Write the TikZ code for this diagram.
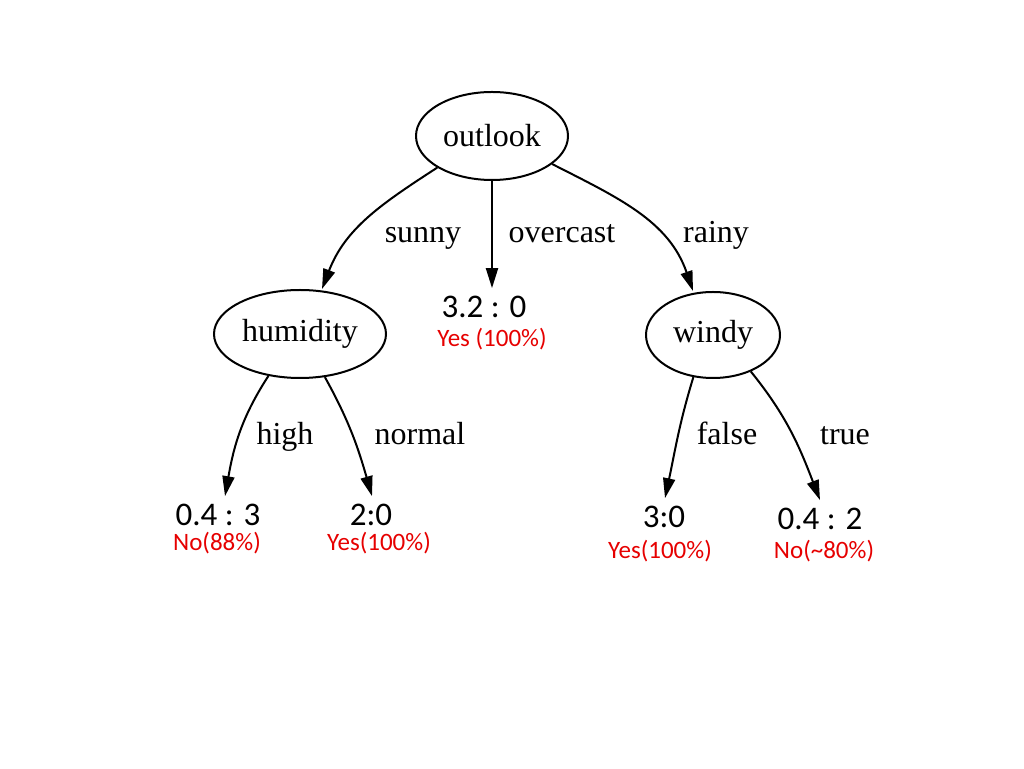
\documentclass[tikz,border=0pt]{standalone}
\usepackage{fontspec}
\setmainfont{Liberation Serif}
\newfontfamily\calib{Carlito}
\usetikzlibrary{arrows.meta,positioning,shapes.geometric}
\definecolor{leafred}{RGB}{230,0,0}
\tikzset{
  attr/.style={ellipse, draw, line width=2pt, inner sep=0pt, font=\fontsize{32}{38}\selectfont},
  branch/.style={-{Triangle[length=20pt,width=12pt]}, line width=2pt},
  edgelbl/.style={font=\fontsize{32}{38}\selectfont, inner sep=0pt, anchor=base},
  counts/.style={font=\calib\fontsize{33}{40}\selectfont, inner sep=0pt, outer sep=8pt},
  verdict/.style={font=\calib\fontsize{25}{30}\selectfont, text=leafred, inner sep=0pt},
}

\begin{document}
\begin{tikzpicture}[x=1pt,y=1pt]
    \useasboundingbox (0,0) rectangle (1024,768);
    % Attribute nodes
    \node[attr, minimum width=152pt, minimum height=88pt] (outlook) at (492,632) {outlook};
    \node[attr, minimum width=172pt, minimum height=88pt] (humidity) at (300,434) {humidity};
    \node[attr, minimum width=134pt, minimum height=86pt] (windy) at (713,433) {windy};
    % Leaves: counts and class
    \node[counts] (ovcN) at (484,461) {3.2 : 0};
    \node[verdict] (ovcC) at (492,429) {Yes (100\%)};
    \node[counts] (highN) at (218,253) {0.4 : 3};
    \node[verdict] (highC) at (217,225) {No(88\%)};
    \node[counts] (normN) at (371,253) {2:0};
    \node[verdict] (normC) at (379,225) {Yes(100\%)};
    \node[counts] (falseN) at (664,251) {3:0};
    \node[verdict] (falseC) at (660,217) {Yes(100\%)};
    \node[counts] (trueN) at (820,249) {0.4 : 2};
    \node[verdict] (trueC) at (824,217) {No(\textasciitilde80\%)};
    % Branches
    \draw[branch] (outlook.210) to[out=213,in=69] (humidity.north -| 322,0);
    \draw[branch] (outlook.south) -- (ovcN.north -| outlook.south);
    \draw[branch] (outlook.335) to[out=333,in=109] (windy.north -| 693,0);
    \draw[branch] (humidity.233) to[out=237,in=80] (highN.north -| 225,0);
    \draw[branch] (humidity.300) to[out=299,in=106] (normN.north -| 372,0);
    \draw[branch] (windy.245) to[out=253,in=78] (falseN.north -| 665,0);
    \draw[branch] (windy.316) to[out=309,in=111] (trueN.north -| 820,0);
    % Branch labels
    \node[edgelbl] (sunny) at (423,525) {sunny};
    \node[edgelbl] (overcast) at (562,525) {overcast};
    \node[edgelbl] (rainy) at (716,525) {rainy};
    \node[edgelbl] (high) at (285,323) {high};
    \node[edgelbl] (normal) at (420,323) {normal};
    \node[edgelbl] (false) at (727,323) {false};
    \node[edgelbl] (true) at (845,323) {true};
\end{tikzpicture}
\end{document}
